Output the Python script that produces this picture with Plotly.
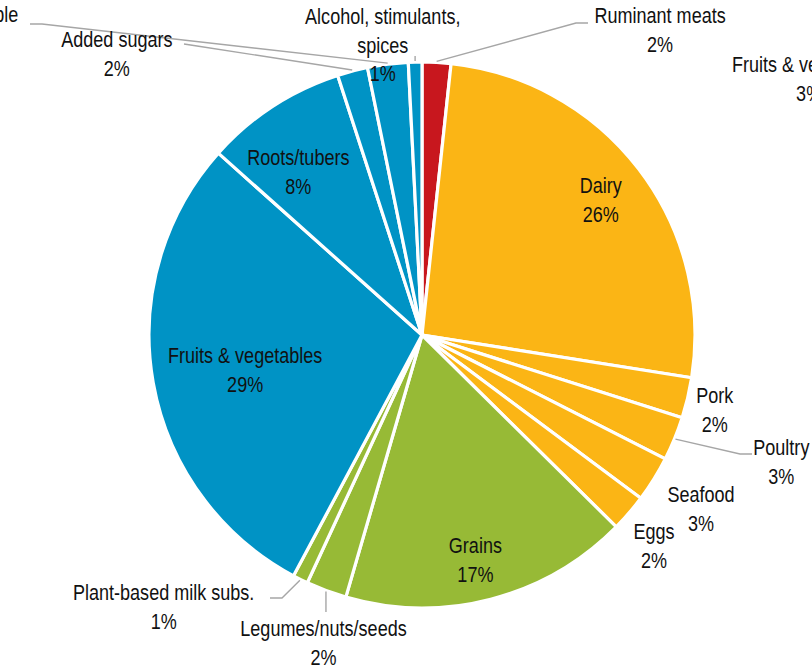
import math
import plotly.graph_objects as go

W, H = 812, 667

# Share of total by food group (percent), clockwise from 12 o'clock
categories = [
    "Ruminant meats", "Dairy", "Pork", "Poultry", "Seafood", "Eggs",
    "Grains", "Legumes/nuts/seeds", "Plant-based milk subs.",
    "Fruits & vegetables", "Roots/tubers", "Added sugars",
    "Oils, vegetable", "Alcohol, stimulants, spices",
]
shares = [1.7, 25.8, 2.4, 2.6, 2.7, 2.2, 17.1, 2.4, 0.9, 28.8, 8.4, 1.8, 2.4, 0.8]
colors = [
    "#C8171E", "#FBB515", "#FBB515", "#FBB515", "#FBB515", "#FBB515",
    "#97BA36", "#97BA36", "#97BA36",
    "#0093C5", "#0093C5", "#0093C5", "#0093C5", "#0093C5",
]

# Text shown for each group (line breaks where the label wraps)
label_text = {
    "Ruminant meats": "Ruminant meats",
    "Dairy": "Dairy",
    "Pork": "Pork",
    "Poultry": "Poultry",
    "Seafood": "Seafood",
    "Eggs": "Eggs",
    "Grains": "Grains",
    "Legumes/nuts/seeds": "Legumes/nuts/seeds",
    "Plant-based milk subs.": "Plant-based milk subs.",
    "Fruits & vegetables": "Fruits & vegetables",
    "Roots/tubers": "Roots/tubers",
    "Added sugars": "Added sugars",
    "Oils, vegetable": "Oils, vegetable",
    "Alcohol, stimulants, spices": "Alcohol, stimulants,<br>spices",
}

# Label placement in pixels: (x, y, xanchor)
label_pos = {
    "Ruminant meats": (660, 30, "center"),
    "Dairy": (600, 200, "center"),
    "Pork": (715, 410, "center"),
    "Poultry": (781, 462, "center"),
    "Seafood": (701, 509, "center"),
    "Eggs": (654, 546, "center"),
    "Grains": (476, 560, "center"),
    "Legumes/nuts/seeds": (323, 643, "center"),
    "Plant-based milk subs.": (163, 607, "center"),
    "Fruits & vegetables": (245, 370, "center"),
    "Roots/tubers": (298, 172, "center"),
    "Added sugars": (117, 54, "center"),
    "Oils, vegetable": (34, 29, "right"),
    "Alcohol, stimulants, spices": (383, 45, "center"),
}

# Leader-line bend points in pixels (line starts at the slice edge)
leader_bends = {
    "Ruminant meats": [(576, 23), (588, 23)],
    "Poultry": [(740, 454), (752, 454)],
    "Added sugars": [(197, 46), (184, 44)],
    "Oils, vegetable": [(42, 24), (30, 24)],
    "Plant-based milk subs.": [(282, 598), (270, 598)],
    "Legumes/nuts/seeds": ["v", 612],
    "Alcohol, stimulants, spices": ["v", 56],
}

FONT = "Liberation Sans Narrow, Arial Narrow, Liberation Sans, Arial, sans-serif"
CX, CY, R = 422, 335, 273


def px(x):
    return x / W


def py(y):
    return 1 - y / H


fig = go.Figure(
    go.Pie(
        labels=categories,
        values=shares,
        sort=False,
        direction="clockwise",
        rotation=0,
        marker=dict(colors=colors, line=dict(color="white", width=3.2)),
        textinfo="none",
        hoverinfo="label+percent",
        showlegend=False,
        domain=dict(x=[px(CX - R), px(CX + R)], y=[py(CY + R), py(CY - R)]),
    )
)

total = sum(shares)
annotations = []
shapes = []
cum = 0.0
for name, v in zip(categories, shares):
    mid = (cum + v / 2) / total * 2 * math.pi
    cum += v
    pct = round(v / total * 100)
    x, y, anchor = label_pos[name]
    annotations.append(dict(
        x=px(x), y=py(y), xref="paper", yref="paper",
        text=f"{label_text[name]}<br>{pct}%",
        showarrow=False, xanchor=anchor, yanchor="middle", align="center",
        font=dict(family=FONT, size=22, color="#111111"),
    ))
    if name in leader_bends:
        sx = CX + (R + 1) * math.sin(mid)
        sy = CY - (R + 1) * math.cos(mid)
        bends = leader_bends[name]
        if bends[0] == "v":
            pts = [(sx, sy), (sx, bends[1])]
        else:
            pts = [(sx, sy)] + bends
        path = "M " + " L ".join(f"{px(a):.5f},{py(b):.5f}" for a, b in pts)
        shapes.append(dict(type="path", path=path, xref="paper", yref="paper",
                           line=dict(color="#A6A6A6", width=1.4)))

# Neighbouring label partly outside the frame on the right
annotations.append(dict(
    x=px(713), y=py(79), xref="paper", yref="paper",
    text="Fruits & vegetables<br>3%", showarrow=False,
    xanchor="left", yanchor="middle", align="center",
    font=dict(family=FONT, size=22, color="#111111"),
))

fig.update_layout(
    width=W, height=H,
    margin=dict(l=0, r=0, t=0, b=0),
    paper_bgcolor="white", plot_bgcolor="white",
    annotations=annotations, shapes=shapes,
)

# Narrow the label lettering horizontally (condensed look) around each label's centre
condense_css = (
    "var s=document.createElement('style');"
    "s.textContent='.annotation-text{transform:scaleX(0.82);"
    "transform-box:fill-box;transform-origin:center;}';"
    "document.head.appendChild(s);"
)

fig.write_html("out.html", post_script=condense_css)
